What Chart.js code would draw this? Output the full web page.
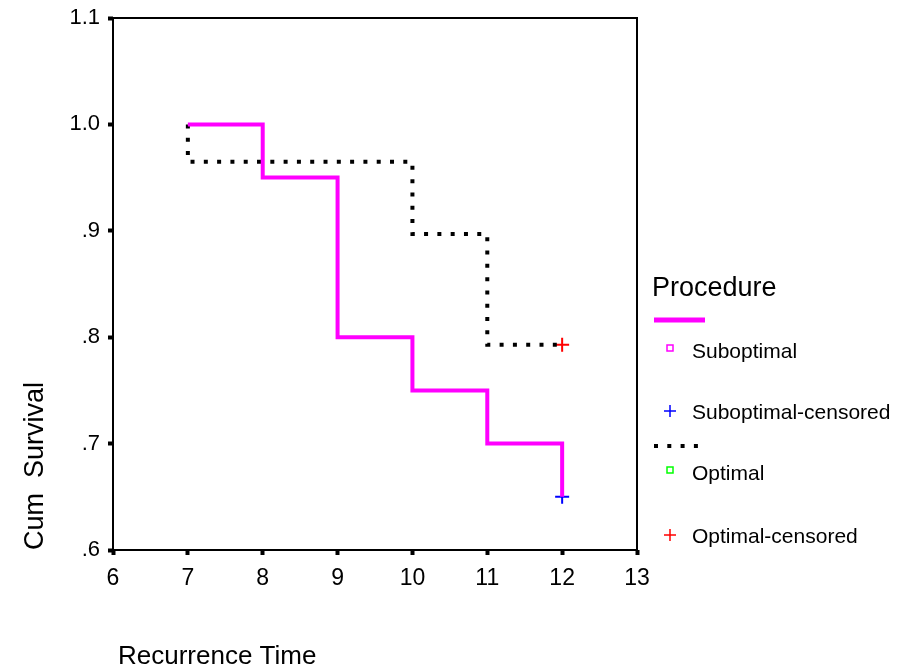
<!DOCTYPE html>
<html>
<head>
<meta charset="utf-8">
<script src="https://cdn.jsdelivr.net/npm/chart.js@4"></script>
<style>
  body { margin: 0; background: #fff; }
  canvas { display: block; }
</style>
</head>
<body>
<canvas id="km" width="908" height="672"></canvas>
<script>
// Kaplan-Meier steps
const subTimes = [7, 8, 9, 10, 11, 12];
const subSurv = [1.0, 0.95, 0.8, 0.75, 0.7, 0.65];
const optTimes = [7, 7, 10, 11, 12];
const optSurv = [1.0, 0.965, 0.897, 0.793, 0.793];
const subCensTimes = [12];
const subCensSurv = [0.65];
const optCensTimes = [12];
const optCensSurv = [0.793];

const xTicks = [6, 7, 8, 9, 10, 11, 12, 13];
const yTicks = [0.6, 0.7, 0.8, 0.9, 1.0, 1.1];
const legendTitle = "Procedure";
const legendLabels = ["Suboptimal", "Suboptimal-censored", "Optimal", "Optimal-censored"];

const FONT = "'Liberation Sans', Arial, sans-serif";
const toPts = (xs, ys) => xs.map((x, i) => ({ x: x, y: ys[i] }));

const fmtY = (v) => {
  const s = v.toFixed(1);
  return s.startsWith("0") ? s.slice(1) : s;
};

const frame = {
  id: "frame",
  afterDatasetsDraw(chart) {
    const { ctx, chartArea: a } = chart;
    ctx.save();
    ctx.strokeStyle = "#000";
    ctx.lineWidth = 2;
    ctx.strokeRect(a.left, a.top, a.right - a.left, a.bottom - a.top);

    // axis titles
    ctx.fillStyle = "#000";
    ctx.font = "26px " + FONT;
    ctx.textBaseline = "middle";
    ctx.textAlign = "left";
    ctx.fillText("Recurrence Time", 118, 657);
    ctx.font = "27px " + FONT;
    ctx.translate(36, 550);
    ctx.rotate(-Math.PI / 2);
    ctx.fillText("Cum  Survival", 0, 0);
    ctx.restore();

    // legend
    ctx.save();
    ctx.fillStyle = "#000";
    ctx.textBaseline = "alphabetic";
    ctx.font = "27px " + FONT;
    ctx.fillText(legendTitle, 652, 296);

    ctx.strokeStyle = "#ff00ff";
    ctx.lineWidth = 5;
    ctx.beginPath();
    ctx.moveTo(654, 320);
    ctx.lineTo(705, 320);
    ctx.stroke();

    ctx.strokeStyle = "#000";
    ctx.lineWidth = 4;
    ctx.setLineDash([4, 9.3]);
    ctx.beginPath();
    ctx.moveTo(654, 446);
    ctx.lineTo(700, 446);
    ctx.stroke();
    ctx.setLineDash([]);

    const rows = [352, 413, 474, 537];
    const colors = ["#ff00ff", "#0000ff", "#00ff00", "#ff0000"];
    const square = [true, false, true, false];
    ctx.font = "21px " + FONT;
    ctx.textBaseline = "middle";
    rows.forEach((y, i) => {
      ctx.strokeStyle = colors[i];
      ctx.lineWidth = 1.5;
      if (square[i]) {
        ctx.strokeRect(667, y - 7, 6, 6);
      } else {
        ctx.beginPath();
        ctx.moveTo(664, y - 2);
        ctx.lineTo(676, y - 2);
        ctx.moveTo(670, y - 8);
        ctx.lineTo(670, y + 4);
        ctx.stroke();
      }
      ctx.fillStyle = "#000";
      ctx.fillText(legendLabels[i], 692, y);
    });
    ctx.restore();
  },
};

new Chart(document.getElementById("km"), {
  type: "line",
  data: {
    datasets: [
      {
        label: "Suboptimal",
        data: toPts(subTimes, subSurv),
        stepped: "before",
        borderColor: "#ff00ff",
        borderWidth: 4,
        pointRadius: 0,
        fill: false,
      },
      {
        label: "Optimal",
        data: toPts(optTimes, optSurv),
        stepped: "before",
        borderColor: "#000",
        borderWidth: 4,
        borderDash: [4, 9.3],
        borderCapStyle: "butt",
        pointRadius: 0,
        fill: false,
      },
      {
        label: "Suboptimal-censored",
        type: "scatter",
        data: toPts(subCensTimes, subCensSurv),
        pointStyle: "cross",
        pointRadius: 7,
        borderColor: "#0000ff",
        borderWidth: 2,
      },
      {
        label: "Optimal-censored",
        type: "scatter",
        data: toPts(optCensTimes, optCensSurv),
        pointStyle: "cross",
        pointRadius: 7,
        borderColor: "#ff0000",
        borderWidth: 2,
      },
    ],
  },
  options: {
    responsive: false,
    animation: false,
    devicePixelRatio: 1,
    layout: { padding: { top: 18, right: 271, left: 0, bottom: 0 } },
    plugins: {
      legend: { display: false },
      tooltip: { enabled: false },
    },
    scales: {
      x: {
        type: "linear",
        min: 6,
        max: 13,
        afterBuildTicks: (scale) => {
          scale.ticks = xTicks.map((v) => ({ value: v }));
        },
        afterFit: (scale) => {
          scale.height = 122;
          scale.paddingLeft = 0;
          scale.paddingRight = 0;
        },
        border: { display: false },
        grid: {
          drawOnChartArea: false,
          tickLength: 5,
          tickWidth: 4,
          tickColor: "#000",
        },
        ticks: {
          color: "#000",
          padding: 10,
          maxRotation: 0,
          font: { family: FONT, size: 23 },
        },
      },
      y: {
        type: "linear",
        min: 0.6,
        max: 1.1,
        afterBuildTicks: (scale) => {
          scale.ticks = yTicks.map((v) => ({ value: v }));
        },
        afterFit: (scale) => {
          scale.width = 113;
          scale.paddingTop = 0;
          scale.paddingBottom = 0;
        },
        border: { display: false },
        grid: {
          drawOnChartArea: false,
          tickLength: 5,
          tickWidth: 4,
          tickColor: "#000",
        },
        ticks: {
          color: "#000",
          padding: 8,
          font: { family: FONT, size: 22 },
          callback: (v) => fmtY(v),
        },
      },
    },
  },
  plugins: [frame],
});
</script>
</body>
</html>
